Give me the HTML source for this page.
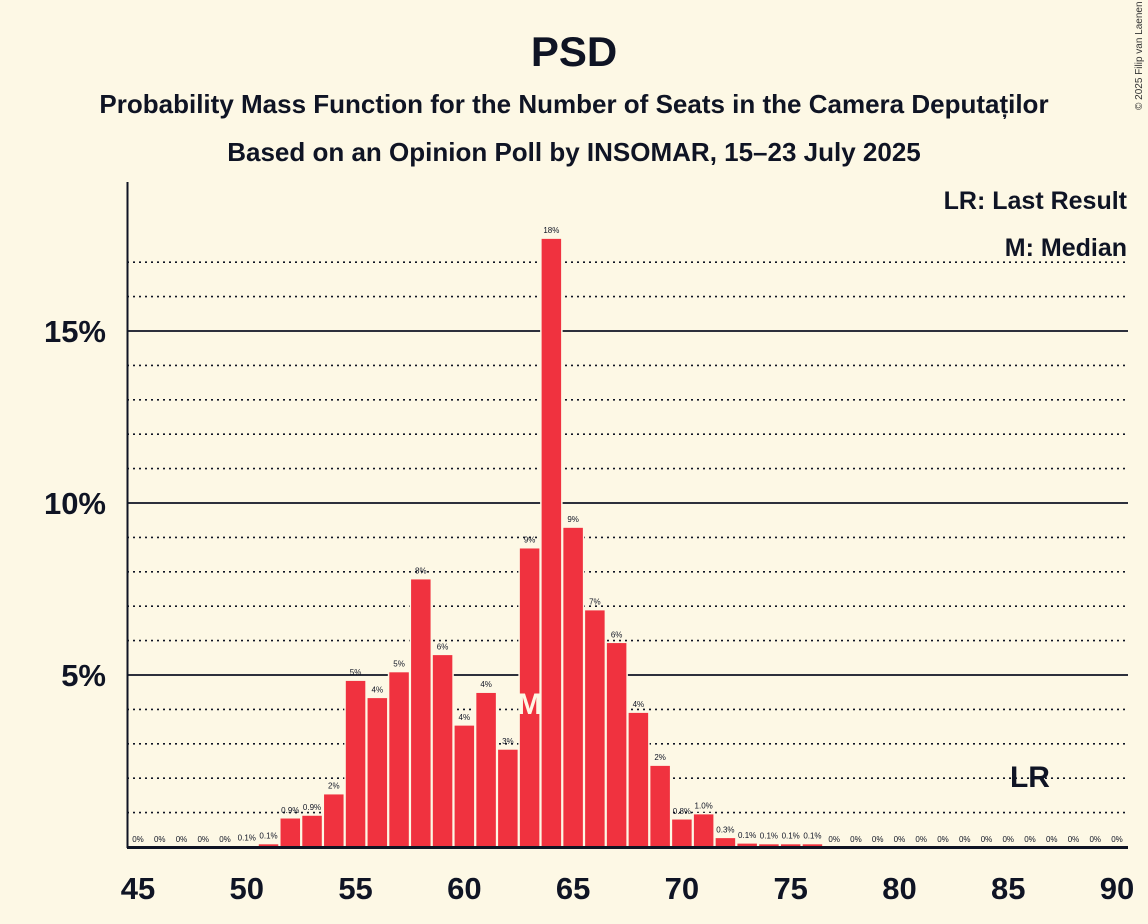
<!DOCTYPE html>
<html><head><meta charset="utf-8"><style>
body{margin:0;background:#fdf8e5;}
svg{display:block;font-family:"Liberation Sans",sans-serif;}
</style></head><body>
<svg id="chart" width="1148" height="924">
<rect width="1148" height="924" fill="#fdf8e5"/>
<text x="574" y="66" text-anchor="middle" font-size="42" font-weight="bold" fill="#0f1424">PSD</text>
<text x="574" y="113" text-anchor="middle" font-size="26" font-weight="bold" fill="#0f1424">Probability Mass Function for the Number of Seats in the Camera Deputaților</text>
<text x="574" y="161" text-anchor="middle" font-size="26" font-weight="bold" fill="#0f1424">Based on an Opinion Poll by INSOMAR, 15–23 July 2025</text>
<text x="1142" y="110" font-size="10" fill="#333" transform="rotate(-90 1142 110)">© 2025 Filip van Laenen</text>
<text x="1127" y="209" text-anchor="end" font-size="25" font-weight="bold" fill="#0f1424">LR: Last Result</text>
<text x="1127" y="256" text-anchor="end" font-size="25" font-weight="bold" fill="#0f1424">M: Median</text>
<g id="grid"></g><g id="bars"></g><g id="labels"></g><g id="axes"></g>
</svg>
<script>
const seats=[45,46,47,48,49,50,51,52,53,54,55,56,57,58,59,60,61,62,63,64,65,66,67,68,69,70,71,72,73,74,75,76,77,78,79,80,81,82,83,84,85,86,87,88,89,90];
const probs=[0,0,0,0,0,0.05,0.1,0.85,0.93,1.55,4.85,4.35,5.1,7.8,5.6,3.55,4.5,2.85,8.7,17.7,9.3,6.9,5.95,3.92,2.38,0.82,0.97,0.28,0.12,0.1,0.1,0.1,0,0,0,0,0,0,0,0,0,0,0,0,0,0];
const valueLabels=["0%","0%","0%","0%","0%","0.1%","0.1%","0.9%","0.9%","2%","5%","4%","5%","8%","6%","4%","4%","3%","9%","18%","9%","7%","6%","4%","2%","0.8%","1.0%","0.3%","0.1%","0.1%","0.1%","0.1%","0%","0%","0%","0%","0%","0%","0%","0%","0%","0%","0%","0%","0%","0%"];
const xTicks=[45,50,55,60,65,70,75,80,85,90];
const yMajor=[5,10,15];
const yMinor=[1,2,3,4,6,7,8,9,11,12,13,14,16,17];
const medianSeat=64, lastResult=86;
const NS="http://www.w3.org/2000/svg";
const x=s=>138+(s-45)*21.756;
const y=p=>847-p*34.4;
function mk(tag,attrs,parent,txt){const e=document.createElementNS(NS,tag);for(const k in attrs)e.setAttribute(k,attrs[k]);if(txt!==undefined)e.textContent=txt;document.getElementById(parent).appendChild(e);return e;}
yMinor.forEach(v=>{const e=mk('line',{x1:127,x2:1128,y1:y(v),y2:y(v),stroke:'#0f1424','stroke-width':1.6,'stroke-dasharray':'2,4'},'grid');

});
yMajor.forEach(v=>{const e=mk('line',{x1:127,x2:1128,y1:y(v),y2:y(v),stroke:'#0f1424','stroke-width':1.8},'grid');


const t=mk('text',{x:106,y:y(v)+11,'text-anchor':'end','font-size':31,'font-weight':'bold',fill:'#0f1424'},'axes',v+'%');

});
seats.forEach((s,i)=>{const p=probs[i];
if(p>0){const r=mk('rect',{x:x(s)-10.5,y:y(p),width:21,height:847-y(p),fill:'#f0323f',stroke:'#fdf8e5','stroke-width':1.5},'bars');

}
const t=mk('text',{x:x(s),y:y(p)-5,'text-anchor':'middle','font-size':8,fill:'#0f1424'},'labels',valueLabels[i]);

});
const m=mk('text',{x:x(medianSeat-1),y:714,'text-anchor':'middle','font-size':30,'font-weight':'bold',fill:'#fdf8e5'},'labels','M');


const lr=mk('text',{x:x(lastResult),y:787,'text-anchor':'middle','font-size':30,'font-weight':'bold',fill:'#0f1424'},'labels','LR');


const ax=mk('line',{x1:127,x2:1128,y1:847.5,y2:847.5,stroke:'#0f1424','stroke-width':3},'axes');


const ay=mk('line',{x1:127.5,x2:127.5,y1:182,y2:848,stroke:'#0f1424','stroke-width':2},'axes');


xTicks.forEach(s=>{const t=mk('text',{x:x(s),y:899,'text-anchor':'middle','font-size':31,'font-weight':'bold',fill:'#0f1424'},'axes',s);

});
</script>
</body></html>
